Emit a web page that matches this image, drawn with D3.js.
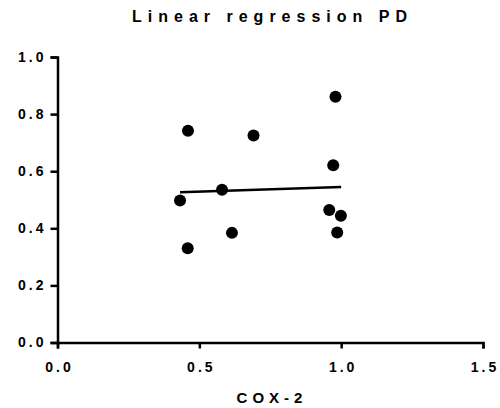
<!DOCTYPE html>
<html>
<head>
<meta charset="utf-8">
<script src="https://cdn.jsdelivr.net/npm/d3@7"></script>
<style>
  body { margin: 0; background: #fff; }
  text { font-family: "Liberation Sans", Arial, sans-serif; font-weight: bold; fill: #000; }
</style>
</head>
<body>
<script>
const width = 500
const height = 408

// COX-2 vs PD values
const cox2 = [0.460, 0.691, 0.980, 0.972, 0.580, 0.432, 0.958, 0.999, 0.986, 0.615, 0.459]
const pd = [0.742, 0.725, 0.861, 0.621, 0.535, 0.497, 0.464, 0.444, 0.385, 0.384, 0.330]
// fitted line as drawn in the picture
const fit_x = [0.432, 1.0]
const fit_y = [0.526, 0.545]
const x_ticks = [0, 0.5, 1.0, 1.5]
const y_ticks = [0, 0.2, 0.4, 0.6, 0.8, 1.0]

var svg = d3.select("body").append("svg")
            .attr("width", width)
            .attr("height", height);

var x = d3.scaleLinear().domain([0, 1.5]).range([57.5, 483]);
var y = d3.scaleLinear().domain([0, 1]).range([342.5, 57]);

// title
svg.append("text")
   .attr("x", 272.5)
   .attr("y", 22)
   .attr("text-anchor", "middle")
   .style("font-size", "16px")
   .style("letter-spacing", "6px")
   .text("Linear regression PD");

// axes
var xAxis = svg.append("g")
   .attr("transform", "translate(0," + y(0) + ")")
   .call(d3.axisBottom(x).tickValues(x_ticks).tickFormat(d3.format(".1f")).tickSize(6).tickPadding(14));

var yAxis = svg.append("g")
   .attr("transform", "translate(" + x(0) + ",0)")
   .call(d3.axisLeft(y).tickValues(y_ticks).tickFormat(d3.format(".1f")).tickSize(7).tickPadding(4));

[xAxis, yAxis].forEach(function(a) {
  a.select(".domain").attr("stroke-width", 2.5).attr("stroke", "#000");
  a.selectAll(".tick line").attr("stroke-width", 2.5).attr("stroke", "#000");
  a.selectAll(".tick text")
   .attr("fill", "#000")
   .style("font-size", "14px")
   .style("letter-spacing", "3px");
});
xAxis.selectAll(".tick text").attr("dx", "1.5px");

// x axis label
svg.append("text")
   .attr("x", 272)
   .attr("y", 403)
   .attr("text-anchor", "middle")
   .style("font-size", "15px")
   .style("letter-spacing", "5px")
   .text("COX-2");

var line = d3.line()
   .x(function(d) { return x(d); })
   .y(function(d, i) { return y(fit_y[i]); });

svg.append("path")
   .attr("d", line(fit_x))
   .style("fill", "none")
   .style("stroke", "#000")
   .style("stroke-width", 2.5);

svg.selectAll("circle")
   .data(cox2)
   .enter().append("circle")
   .attr("cx", function(d) { return x(d); })
   .attr("cy", function(d, i) { return y(pd[i]); })
   .attr("r", 6)
   .style("fill", "#000");
</script>
</body>
</html>
